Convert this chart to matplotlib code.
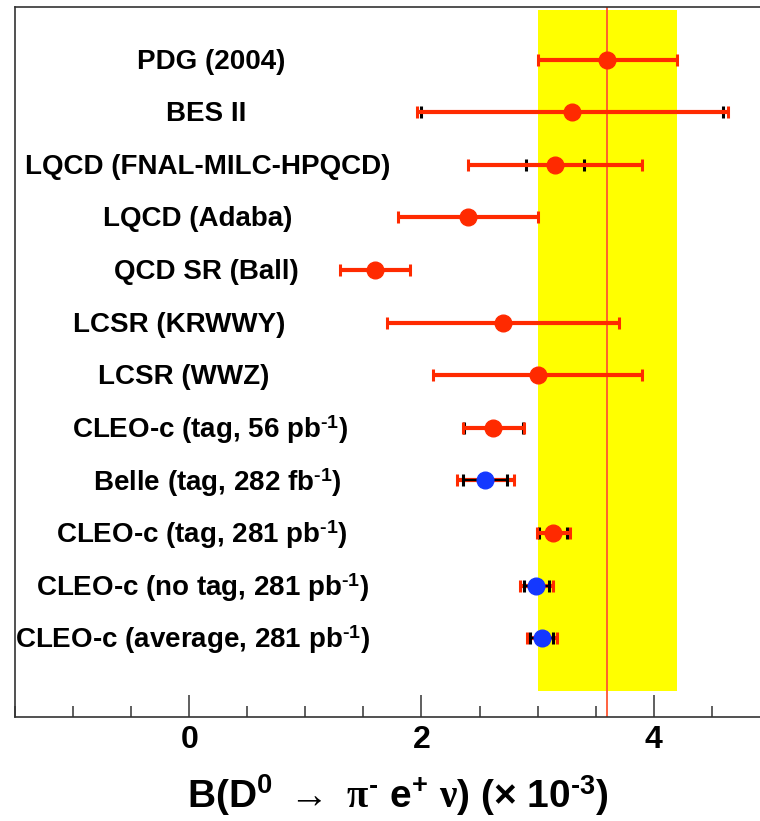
import matplotlib
matplotlib.use("Agg")
import matplotlib.pyplot as plt
import matplotlib.transforms as mtransforms
from matplotlib.ticker import MultipleLocator, FixedLocator

# ---------------- data ----------------
labels = [
    "PDG (2004)",
    "BES II",
    "LQCD (FNAL-MILC-HPQCD)",
    "LQCD (Adaba)",
    "QCD SR (Ball)",
    "LCSR (KRWWY)",
    "LCSR (WWZ)",
    r"CLEO-c (tag, 56 pb$^{\text{-1}}$)",
    r"Belle (tag, 282 fb$^{\text{-1}}$)",
    r"CLEO-c (tag, 281 pb$^{\text{-1}}$)",
    r"CLEO-c (no tag, 281 pb$^{\text{-1}}$)",
    r"CLEO-c (average, 281 pb$^{\text{-1}}$)",
]
values = [3.60, 3.30, 3.15, 2.40, 1.60, 2.70, 3.00, 2.62, 2.55, 3.135, 2.99, 3.035]
err_total = [0.60, 1.34, 0.75, 0.60, 0.30, 1.00, 0.90, 0.26, 0.245, 0.14, 0.145, 0.13]
err_stat = [0.0, 1.30, 0.25, 0.0, 0.0, 0.0, 0.0, 0.25, 0.19, 0.12, 0.11, 0.10]
group = ["red", "red", "red", "red", "red", "red", "red", "red", "blue", "red", "blue", "blue"]

xticks_major = [0, 2, 4]

# ---------------- layout / style ----------------
label_centre = [0.19, 0.15, 0.16, 0.07, 0.15, -0.09, -0.05, 0.18, 0.24, 0.11, 0.12, 0.03]
RED = "#ff2a00"
BLUE = "#1438ff"
colours = {"red": RED, "blue": BLUE}

plt.rcParams["font.family"] = ["Liberation Sans", "DejaVu Sans"]
plt.rcParams["font.weight"] = "bold"
plt.rcParams["mathtext.fontset"] = "custom"
plt.rcParams["mathtext.rm"] = "Liberation Sans:bold"
plt.rcParams["mathtext.bf"] = "Liberation Sans:bold"
plt.rcParams["mathtext.sf"] = "Liberation Sans:bold"
plt.rcParams["mathtext.it"] = "Liberation Serif"

W, H = 760, 821
fig = plt.figure(figsize=(W / 100, H / 100), dpi=100)
left, right, top, bottom = 15, 760, 7, 717
ax = fig.add_axes([left / W, 1 - bottom / H, (right - left) / W, (bottom - top) / H])

n = len(labels)
ys = [n - i for i in range(n)]

ax.set_xlim(-1.5, 4.915)
ax.set_ylim(-0.5, 13.0)

# PDG band and line
ax.fill_betweenx([0, 12.94], values[0] - err_total[0], values[0] + err_total[0],
                 color="#ffff00", lw=0, zorder=1)
ax.axvline(values[0], color="#ff5530", lw=1.3, zorder=2)

label_tr = mtransforms.offset_copy(ax.transData, fig=fig, x=0, y=-2, units="dots")

for i in range(n):
    x, y = values[i], ys[i]
    c = colours[group[i]]
    if group[i] == "red":
        if err_stat[i] > 0:
            ax.errorbar(x, y, xerr=err_stat[i], fmt="none", ecolor="black",
                        elinewidth=2.0, capsize=4.3, capthick=2.2, zorder=3)
        ax.errorbar(x, y, xerr=err_total[i], fmt="none", ecolor=RED,
                    elinewidth=3.0, capsize=4.3, capthick=2.2, zorder=4)
    else:
        ax.errorbar(x, y, xerr=err_total[i], fmt="none", ecolor=RED,
                    elinewidth=3.0, capsize=4.3, capthick=2.2, zorder=3)
        ax.errorbar(x, y, xerr=err_stat[i], fmt="none", ecolor="black",
                    elinewidth=1.6, capsize=4.3, capthick=2.2, zorder=4)
    ax.plot([x], [y], "o", color=c, ms=12, mec=c, zorder=6)
    ax.text(label_centre[i], y, labels[i], ha="center", va="center",
            fontsize=20, fontweight="bold", color="black", zorder=7,
            transform=label_tr)

# axes styling
for s in ["left", "bottom", "top"]:
    ax.spines[s].set_color("#333333")
    ax.spines[s].set_linewidth(1.2)
ax.spines["right"].set_visible(False)
ax.set_yticks([])
ax.xaxis.set_major_locator(FixedLocator(xticks_major))
ax.xaxis.set_minor_locator(MultipleLocator(0.5))
ax.tick_params(axis="x", which="major", direction="in", length=15.8, width=1.2,
               color="#444444", labelsize=23, pad=6)
ax.tick_params(axis="x", which="minor", direction="in", length=8, width=1.2,
               color="#444444")
for t in ax.get_xticklabels():
    t.set_fontweight("bold")

ax.set_xlabel(r"$\mathrm{B(D^0}\ \rightarrow\ \pi^{\text{-}}\ \mathrm{e^{+}}\ \nu\mathrm{)\ (\times\ 10}^{\text{-3}}\mathrm{)}$",
              fontsize=28, va="center")
ax.xaxis.set_label_coords((398 - left) / (right - left), -(795 - bottom) / (bottom - top))

fig.savefig("out.png", dpi=100)
